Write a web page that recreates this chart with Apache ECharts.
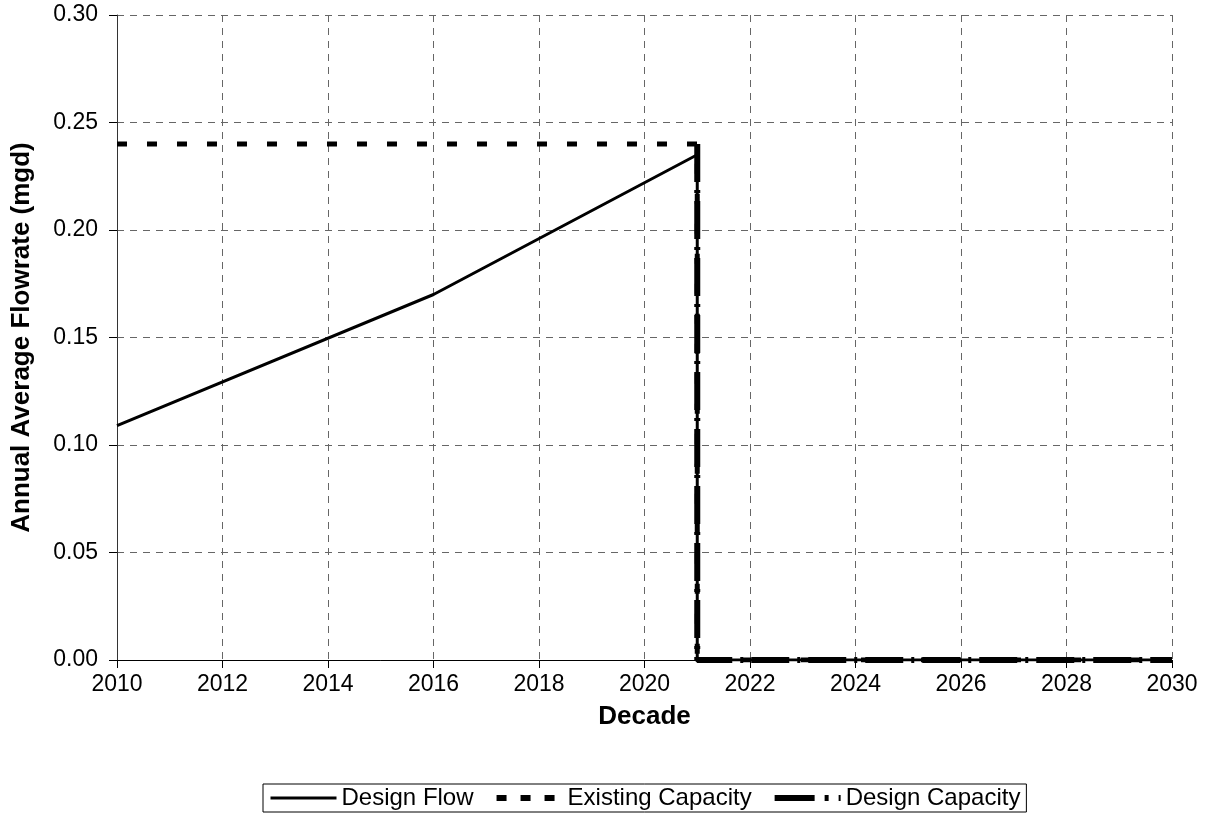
<!DOCTYPE html>
<html>
<head>
<meta charset="utf-8">
<script src="https://cdn.jsdelivr.net/npm/echarts@6/dist/echarts.min.js"></script>
<style>html,body{margin:0;padding:0;background:#fff}#c{width:1208px;height:814px}</style>
</head>
<body>
<div id="c"></div>
<script>
const flowYears = [2010, 2016, 2021, 2021, 2030];
const flowValues = [0.109, 0.170, 0.235, 0, 0];
const existYears = [2010, 2021, 2021, 2030];
const existValues = [0.24, 0.24, 0, 0];
const designCapYears = [2021, 2021, 2030];
const designCapValues = [0.24, 0, 0];
const seriesNames = ['Design Flow', 'Existing Capacity', 'Design Capacity'];

const zip = (xs, ys) => xs.map((x, i) => [x, ys[i]]);
const font = '"Liberation Sans", Arial, sans-serif';
const FS = 23;
const lineStyles = [
  { color: '#000', width: 3, type: 'solid' },
  { color: '#000', width: 5, type: [10, 20] },
  { color: '#000', width: 6, type: [38, 8, 3, 8] }
];
const legendLineStyles = [
  { color: '#000', width: 3, type: 'solid' },
  { color: '#000', width: 6, type: [10, 14] },
  { color: '#000', width: 6, type: [40, 10, 4, 10] }
];
const chart = echarts.init(document.getElementById('c'));
chart.setOption({
  animation: false,
  backgroundColor: '#fff',
  grid: { left: 117, right: 36, top: 15, bottom: 154, containLabel: false, outerBoundsMode: 'none' },
  xAxis: {
    type: 'value', min: 2010, max: 2030, interval: 2,
    name: 'Decade', nameLocation: 'middle', nameGap: 44,
    nameTextStyle: { fontFamily: font, fontSize: 26, fontWeight: 'bold', color: '#000' },
    axisLine: { lineStyle: { color: '#000', width: 1 } },
    axisTick: { show: true, length: 8, lineStyle: { color: '#000' } },
    axisLabel: { fontFamily: font, fontSize: FS, color: '#000', margin: 13, formatter: v => String(v) },
    splitLine: { show: true, lineStyle: { color: '#666', type: [7, 6], width: 1 } }
  },
  yAxis: {
    type: 'value', min: 0, max: 0.30, interval: 0.05,
    name: 'Annual Average Flowrate (mgd)', nameLocation: 'middle', nameGap: 82, nameRotate: 90,
    nameTextStyle: { fontFamily: font, fontSize: 26, fontWeight: 'bold', color: '#000' },
    axisLine: { show: true, lineStyle: { color: '#333', width: 1 } },
    axisTick: { show: true, length: 8, lineStyle: { color: '#000' } },
    axisLabel: { fontFamily: font, fontSize: FS, color: '#000', margin: 19, formatter: v => v.toFixed(2) },
    splitLine: { show: true, lineStyle: { color: '#666', type: [7, 6], width: 1 } }
  },
  legend: {
    bottom: 2, left: 263,
    data: seriesNames.map((n, i) => ({ name: n, lineStyle: legendLineStyles[i] })),
    borderColor: '#000', borderWidth: 1, borderRadius: 0,
    padding: [2, 6, 2, 6], itemGap: 20, itemWidth: 66, itemHeight: 10,
    itemStyle: { opacity: 0 },
    textStyle: { fontFamily: font, fontSize: 24, color: '#000', padding: [0, 0, 0, 0] }
  },
  series: seriesNames.map((n, i) => ({
    name: n, type: 'line', symbol: 'none', z: 3 + i,
    data: [zip(flowYears, flowValues), zip(existYears, existValues), zip(designCapYears, designCapValues)][i],
    lineStyle: lineStyles[i], itemStyle: { color: '#000' }
  }))
});
</script>
</body>
</html>
